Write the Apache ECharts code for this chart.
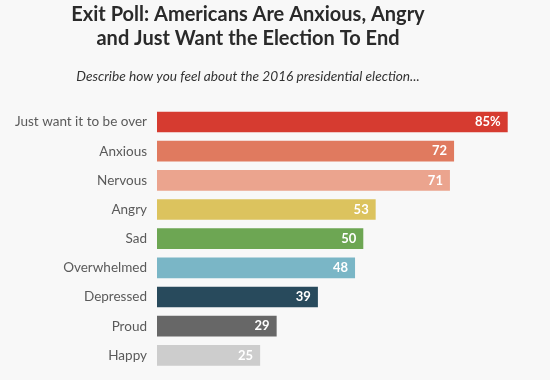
<!DOCTYPE html>
<html><head><meta charset="utf-8">
<script src="https://cdn.jsdelivr.net/npm/echarts@6/dist/echarts.min.js"></script>
<style>html,body{margin:0;padding:0;background:#f8f8f8}#c{width:550px;height:380px}</style>
</head><body><div id="c"></div>
<script>
var categories = ['Just want it to be over','Anxious','Nervous','Angry','Sad','Overwhelmed','Depressed','Proud','Happy'];
var values = [85,72,71,53,50,48,39,29,25];
var colors = ['#d63b30','#e07a5f','#eba48e','#dcc35e','#6da653','#7ab6c6','#284a5c','#676767','#cdcdcd'];
var titleLines = ['Exit Poll: Americans Are Anxious, Angry','and Just Want the Election To End'];
var subtitle = 'Describe how you feel about the 2016 presidential election...';

var chart = echarts.init(document.getElementById('c'));
chart.setOption({
  backgroundColor: '#f8f8f8',
  animation: false,
  graphic: [
    {type:'text', style:{text:titleLines[0], x:248, y:15, textAlign:'center', textVerticalAlign:'middle', font:'bold 20px Lato, "Open Sans", sans-serif', fill:'#2a2a2a'}},
    {type:'text', style:{text:titleLines[1], x:248, y:39, textAlign:'center', textVerticalAlign:'middle', font:'bold 20px Lato, "Open Sans", sans-serif', fill:'#2a2a2a'}},
    {type:'text', style:{text:subtitle, x:248, y:77, textAlign:'center', textVerticalAlign:'middle', font:'italic 13.7px Lato, "Open Sans", sans-serif', fill:'#333'}}
  ],
  grid: {left:157, right:42.3, top:107.4, bottom:10.1, containLabel:false},
  xAxis: {type:'value', min:0, max:85, show:false},
  yAxis: {type:'category', inverse:true, data:categories,
    axisLine:{show:false}, axisTick:{show:false}, splitLine:{show:false},
    axisLabel:{margin:10, color:'#5a5a5a', fontSize:13.5, fontFamily:'Lato, "Open Sans", sans-serif'}},
  series: [{
    type:'bar', barCategoryGap:'29%',
    data: values.map(function(v,i){return {value:v, itemStyle:{color:colors[i]}};}),
    label:{show:true, position:'insideRight', distance:7, color:'#fff', fontWeight:'bold', fontSize:13,
      fontFamily:'Lato, "Open Sans", sans-serif',
      formatter:function(p){return p.dataIndex===0 ? p.value+'%' : p.value;}}
  }]
});
</script></body></html>
